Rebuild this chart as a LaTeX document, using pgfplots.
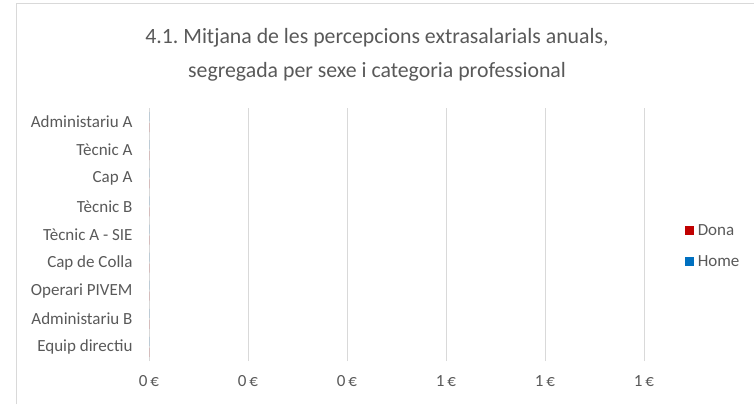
\documentclass[border=0pt]{standalone}
\usepackage{fontspec}
\setmainfont{Carlito}
\usepackage{pgfplots}
\pgfplotsset{compat=1.18}
\definecolor{txt}{HTML}{595959}
\definecolor{grd}{HTML}{D9D9D9}
\definecolor{dona}{HTML}{C00000}
\definecolor{home}{HTML}{0070C0}
\frenchspacing

\begin{document}
\begin{tikzpicture}[x=1pt,y=1pt]
\path[use as bounding box] (0,0) rectangle (754,404);
\draw[grd, line width=1pt] (16,0) -- (16,400.5) -- (754,400.5);
\node[txt, font=\fontsize{21.8}{33.5}\selectfont, align=center] at (377,349)
  {4.1. Mitjana de les percepcions extrasalarials anuals,\\segregada per sexe i categoria professional};
\begin{axis}[
    at={(149pt,43pt)}, anchor=south west,
    scale only axis, width=495pt, height=253pt,
    xmin=0, xmax=1, ymin=-0.5, ymax=8.5,
    xbar, bar width=9pt,
    axis lines*=left,
    x axis line style={draw=none},
    y axis line style={grd, line width=1pt},
    major tick length=0pt,
    xmajorgrids, grid style={grd, line width=1pt},
    xtick={0,0.2,0.4,0.6,0.8,1},
    xticklabels={0\,€,0\,€,0\,€,1\,€,1\,€,1\,€},
    ytick={0,...,8},
    yticklabels={Equip directiu,Administariu B,Operari PIVEM,Cap de Colla,Tècnic A - SIE,Tècnic B,Cap A,Tècnic A,Administariu A},
    tick label style={txt, font=\fontsize{17}{19}\selectfont},
    y tick label style={anchor=east, xshift=-13pt},
    x tick label style={anchor=center, yshift=-20pt},
    legend style={at={(1.083,0.4545)}, anchor=west, draw=none, fill=none,
      font=\fontsize{17}{19}\selectfont, text=txt, row sep=19pt,
      inner sep=0pt, nodes={inner xsep=3.5pt, inner ysep=0pt}},
    legend cell align=left,
    legend image code/.code={\fill (0pt,-4.5pt) rectangle (9pt,4.5pt);},
]
\addplot[fill=dona, draw=none] coordinates {(0,0) (0,1) (0,2) (0,3) (0,4) (0,5) (0,6) (0,7) (0,8)};
\addlegendentry{Dona}
\addplot[fill=home, draw=none] coordinates {(0,0) (0,1) (0,2) (0,3) (0,4) (0,5) (0,6) (0,7) (0,8)};
\addlegendentry{Home}
\end{axis}
\end{tikzpicture}
\end{document}
